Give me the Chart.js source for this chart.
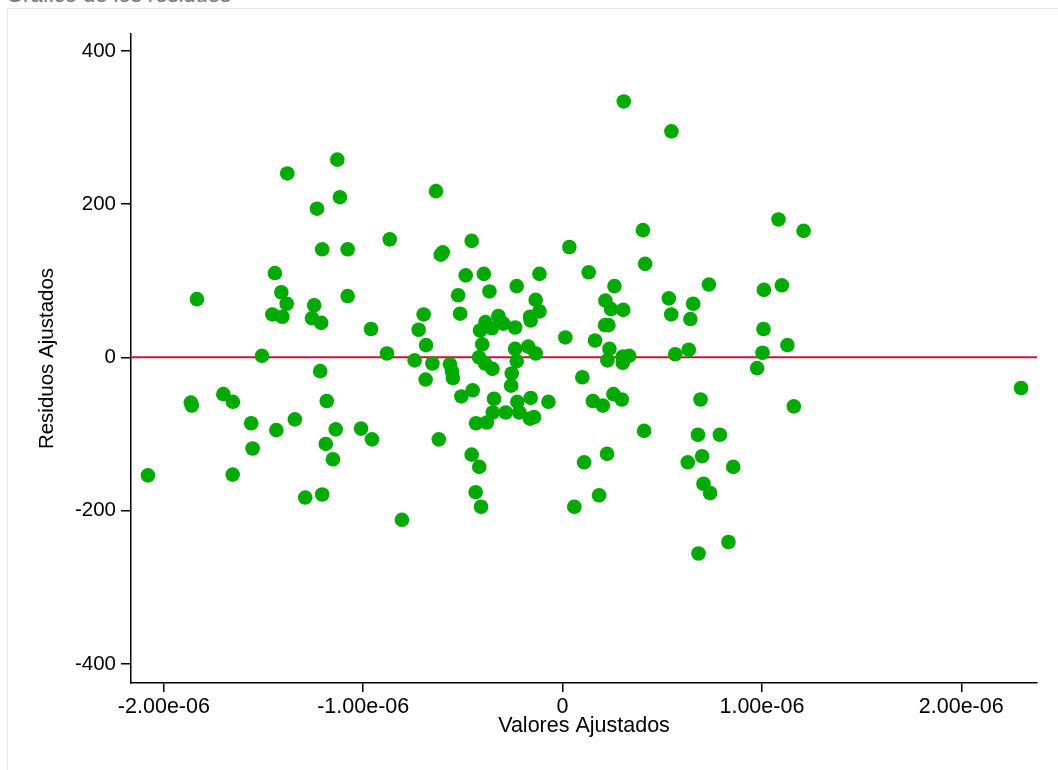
<!DOCTYPE html>
<html>
<head>
<meta charset="utf-8">
<script src="https://cdn.jsdelivr.net/npm/chart.js@4.4.1/dist/chart.umd.min.js"></script>
<style>
  html, body { margin: 0; padding: 0; background: #fff; overflow: hidden; }
  #frame { position: absolute; left: 7px; top: 8px; width: 1100px; height: 800px;
           border-left: 1px solid #e4eaea; border-top: 1px solid #e4eaea; }
  #title { position: absolute; left: 6px; top: -18px; font: 22px "Liberation Sans", Arial, sans-serif;
           color: #777; white-space: nowrap; }
  #chart { position: absolute; left: 0; top: 0; }
</style>
</head>
<body>
<div id="frame"></div>
<div id="title">Gráfico de los residuos</div>
<canvas id="chart" width="1058" height="770"></canvas>
<script>
// valores ajustados (x) y residuos (y)
const fitted = [
  -2.080e-6, -1.865e-6, -1.860e-6, -1.834e-6, -1.702e-6, -1.654e-6, -1.655e-6, -1.562e-6, -1.555e-6, -1.508e-6,
  -1.443e-6, -1.436e-6, -1.411e-6, -1.406e-6, -1.456e-6, -1.384e-6, -1.381e-6, -1.343e-6, -1.291e-6, -1.246e-6,
  -1.257e-6, -1.232e-6, -1.216e-6, -1.211e-6, -1.206e-6, -1.206e-6, -1.188e-6, -1.183e-6, -1.152e-6, -1.138e-6,
  -1.130e-6, -1.117e-6, -1.078e-6, -1.078e-6, -1.011e-6, -0.961e-6, -0.956e-6, -0.881e-6, -0.867e-6, -0.806e-6,
  -0.742e-6, -0.722e-6, -0.697e-6, -0.687e-6, -0.685e-6, -0.653e-6, -0.635e-6, -0.621e-6, -0.601e-6, -0.611e-6,
  -0.565e-6, -0.555e-6, -0.550e-6, -0.524e-6, -0.514e-6, -0.508e-6, -0.486e-6, -0.456e-6, -0.456e-6, -0.451e-6,
  -0.436e-6, -0.419e-6, -0.418e-6, -0.414e-6, -0.409e-6, -0.403e-6, -0.395e-6, -0.389e-6, -0.387e-6, -0.434e-6,
  -0.380e-6, -0.367e-6, -0.355e-6, -0.352e-6, -0.350e-6, -0.344e-6, -0.322e-6, -0.297e-6, -0.285e-6, -0.258e-6,
  -0.255e-6, -0.238e-6, -0.238e-6, -0.230e-6, -0.230e-6, -0.227e-6, -0.217e-6, -0.172e-6, -0.163e-6, -0.160e-6,
  -0.163e-6, -0.160e-6, -0.143e-6, -0.135e-6, -0.135e-6, -0.116e-6, -0.116e-6, -0.071e-6, 0.014e-6, 0.034e-6,
  0.059e-6, 0.099e-6, 0.108e-6, 0.131e-6, 0.152e-6, 0.163e-6, 0.183e-6, 0.202e-6, 0.215e-6, 0.213e-6,
  0.230e-6, 0.225e-6, 0.223e-6, 0.235e-6, 0.243e-6, 0.255e-6, 0.260e-6, 0.297e-6, 0.304e-6, 0.302e-6,
  0.334e-6, 0.302e-6, 0.307e-6, 0.403e-6, 0.409e-6, 0.414e-6, 0.533e-6, 0.545e-6, 0.546e-6, 0.565e-6,
  0.628e-6, 0.633e-6, 0.641e-6, 0.655e-6, 0.679e-6, 0.682e-6, 0.692e-6, 0.700e-6, 0.707e-6, 0.734e-6,
  0.740e-6, 0.789e-6, 0.832e-6, 0.856e-6, 0.976e-6, 1.003e-6, 1.008e-6, 1.010e-6, 1.083e-6, 1.100e-6,
  1.128e-6, 1.160e-6, 1.209e-6, 2.300e-6
];
const residuals = [
  -154, -59, -63, 76, -48, -58, -153, -86, -119, 2,
  110, -95, 85, 53, 56, 70, 240, -81, -183, 68,
  51, 194, -18, 45, 141, -179, -113, -57, -133, -94,
  258, 209, 141, 80, -93, 37, -107, 5, 154, -212,
  -4, 36, 56, -29, 16, -8, 217, -107, 137, 134,
  -9, -18, -27, 81, 57, -51, 107, 152, -127, -43,
  -176, 0, -143, 35, -195, 17, 109, -8, 46, -86,
  -85, 86, 38, -15, -72, -54, 54, 44, -72, -37,
  -21, 39, 11, 93, -5, -58, -72, 14, 53, 48,
  -80, -53, -78, 75, 5, 109, 60, -58, 26, 144,
  -195, -26, -137, 111, -57, 22, -180, -63, 74, 42,
  42, -4, -126, 11, 63, -48, 93, -55, 62, 1,
  2, -7, 334, 166, -96, 122, 77, 56, 295, 4,
  -137, 10, 50, 70, -101, -256, -55, -129, -165, 95,
  -177, -101, -241, -143, -14, 6, 37, 88, 180, 94,
  16, -64, 165, -40
];
const xMin = -2.165e-6, xMax = 2.38e-6;
const yMin = -425, yMax = 422;
const yTicks = [-400, -200, 0, 200, 400];
const xTicks = [-2e-6, -1e-6, 0, 1e-6, 2e-6];

const points = fitted.map((x, i) => ({ x: x, y: residuals[i] }));
const font = { family: "'Liberation Sans', Arial, sans-serif", size: 20.5 };
const xFont = { family: "'Liberation Sans', Arial, sans-serif", size: 21.5 };

function fmtX(v) {
  if (Math.abs(v) < 1e-12) return "0";
  return v.toExponential(2).replace(/e([+-])(\d)$/, "e$10$2");
}

new Chart(document.getElementById("chart"), {
  type: "scatter",
  data: {
    datasets: [{
      data: points,
      backgroundColor: "#00aa00",
      borderWidth: 0,
      pointRadius: 7.3,
      order: 0
    }, {
      type: "line",
      data: [{ x: xMin, y: 0 }, { x: xMax, y: 0 }],
      borderColor: "#c8143c",
      borderWidth: 2,
      pointRadius: 0,
      order: 1
    }]
  },
  options: {
    responsive: false,
    animation: false,
    layout: { padding: { top: 34, right: 21, left: 0, bottom: 0 } },
    plugins: { legend: { display: false }, tooltip: { enabled: false } },
    scales: {
      x: {
        type: "linear",
        min: xMin,
        max: xMax,
        afterBuildTicks: s => { s.ticks = xTicks.map(v => ({ value: v })); },
        afterFit: s => { s.height = 87; },
        grid: { drawOnChartArea: false, drawTicks: true, tickLength: 9, color: "#000", lineWidth: 1.5 },
        border: { color: "#000", width: 1.5 },
        ticks: { color: "#000", font: xFont, padding: 2, maxRotation: 0, callback: fmtX },
        title: { display: true, text: "Valores Ajustados", color: "#000", font: xFont, padding: { top: 0, bottom: 31 } }
      },
      y: {
        min: yMin,
        max: yMax,
        afterBuildTicks: s => { s.ticks = yTicks.map(v => ({ value: v })); },
        afterFit: s => { s.width = 131; },
        grid: { drawOnChartArea: false, drawTicks: true, tickLength: 10, color: "#000", lineWidth: 1.5 },
        border: { color: "#000", width: 1.5 },
        ticks: { color: "#000", font: font, padding: 5 },
        title: { display: true, text: "Residuos Ajustados", color: "#000", font: font, padding: { top: 35, bottom: 0 } }
      }
    }
  }
});
</script>
</body>
</html>
